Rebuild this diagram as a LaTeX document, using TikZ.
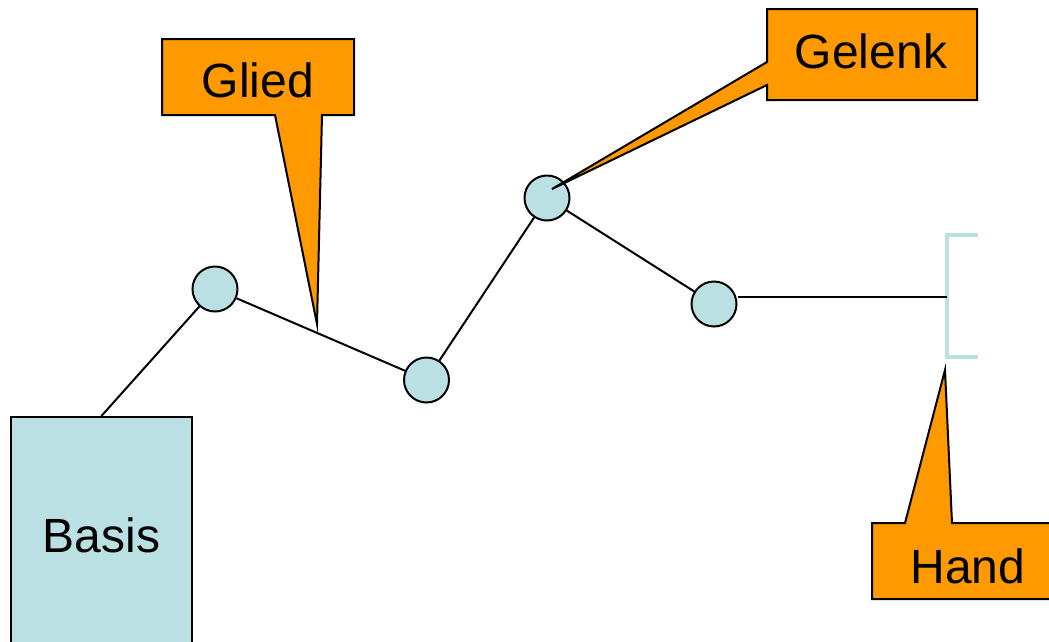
\documentclass[tikz,border=0pt]{standalone}
\usepackage{fontspec}
\setmainfont{Liberation Sans}
\definecolor{jointblue}{HTML}{BBE0E3}
\definecolor{calloutorange}{HTML}{FF9900}
\begin{document}
\begin{tikzpicture}[x=1pt,y=-1pt,
  joint/.style={circle,draw=black,line width=2pt,fill=jointblue,minimum size=45pt,inner sep=0pt},
  link/.style={draw=black,line width=2pt},
  callout/.style={draw=black,line width=2pt,fill=calloutorange,line join=miter},
  bigtext/.style={font=\fontsize{48}{56}\selectfont,inner sep=0pt,anchor=center},
  basisbox/.style={rectangle,draw=black,line width=2pt,fill=jointblue,minimum width=181pt,minimum height=236pt,inner sep=0pt,font=\fontsize{48}{56}\selectfont}]
  \clip (0,0) rectangle (1049,641);
  \fill[white] (0,0) rectangle (1049,641);

  % base of the arm
  \node[basisbox] (basis) at (101.4,535) {Basis};

  % joints
  \node[joint] (c1) at (215,289) {};
  \node[joint] (c2) at (426.5,380) {};
  \node[joint] (c3) at (547,198) {};
  \node[joint] (c4) at (714,304) {};

  % gripper bracket
  \coordinate (br) at (947,297);
  \draw[jointblue,line width=4pt,line cap=butt]
    (978,235) -- (947,235) -- (947,357) -- (978,357);

  % links between the parts
  \draw[link] (basis.north) -- (c1);
  \draw[link] (c1) -- (c2);
  \draw[link] (c2) -- (c3);
  \draw[link] (c3) -- (c4);
  \draw[link] (br -| c4.east) -- (br);

  % callout: Glied
  \draw[callout] (162,39) -- (354,39) -- (354,115) -- (322,115) -- (317,324)
    -- (275,115) -- (162,115) -- cycle;
  \node[bigtext] (glied) at (258,80) {Glied};

  % callout: Gelenk
  \draw[callout] (767,9) -- (977,9) -- (977,100) -- (767,100) -- (767,85)
    -- (552,189) -- (767,62) -- cycle;
  \node[bigtext] (gelenk) at (871,51) {Gelenk};

  % callout: Hand
  \draw[callout] (872,523) -- (905,523) -- (945,370) -- (952,523) -- (1070,523)
    -- (1070,599) -- (872,599) -- cycle;
  \node[bigtext] (hand) at (968,566) {Hand};
\end{tikzpicture}
\end{document}
